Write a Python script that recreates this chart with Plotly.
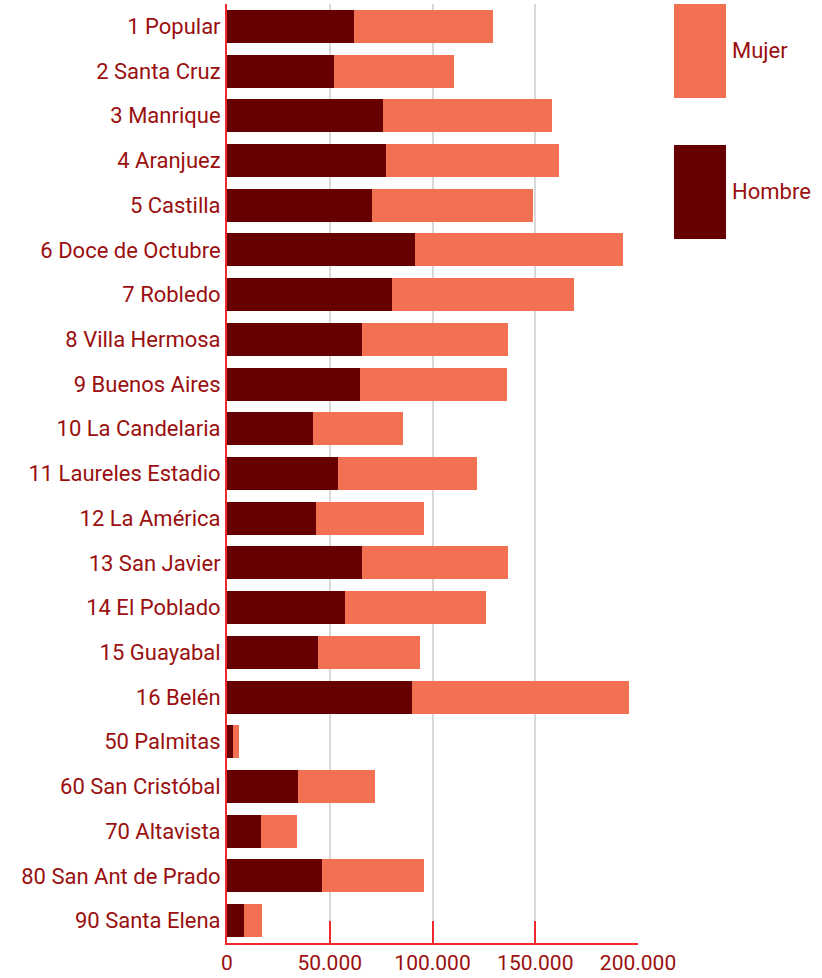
import plotly.graph_objects as go

comunas = ["1 Popular", "2 Santa Cruz", "3 Manrique", "4 Aranjuez", "5 Castilla",
           "6 Doce de Octubre", "7 Robledo", "8 Villa Hermosa", "9 Buenos Aires",
           "10 La Candelaria", "11 Laureles Estadio", "12 La América", "13 San Javier",
           "14 El Poblado", "15 Guayabal", "16 Belén", "50 Palmitas", "60 San Cristóbal",
           "70 Altavista", "80 San Ant de Prado", "90 Santa Elena"]
hombre = [61900, 52200, 76100, 77500, 70700, 91600, 80400, 65800, 64900, 42000, 54200,
          43500, 65800, 57600, 44400, 90200, 3100, 34700, 16700, 46400, 8400]
total = [129600, 110600, 158300, 161700, 149000, 192800, 169000, 136900, 136400, 85800,
         121800, 96000, 136900, 126200, 94000, 195800, 6000, 72200, 34200, 96000, 17200]
mujer = [t - h for t, h in zip(total, hombre)]
tick_vals = [0, 50000, 100000, 150000, 200000]
tick_text = ["0", "50.000", "100.000", "150.000", "200.000"]

C_H = "#660000"
C_M = "#F27153"
TXT = "#9A0F0F"
RED = "#EE2A2F"
FONT = "Roboto"
FS = 22

fig = go.Figure()
fig.add_trace(go.Bar(y=comunas, x=hombre, orientation="h", name="Hombre",
                     marker=dict(color=C_H, line=dict(width=0)), showlegend=False))
fig.add_trace(go.Bar(y=comunas, x=mujer, orientation="h", name="Mujer",
                     marker=dict(color=C_M, line=dict(width=0)), showlegend=False))

fig.update_layout(
    barmode="stack", bargap=0.26,
    width=822, height=978,
    margin=dict(l=227, r=184, t=4, b=35),
    paper_bgcolor="white", plot_bgcolor="white",
    font=dict(family=FONT, size=FS, color=TXT),
    xaxis=dict(range=[0, 200000], tickvals=tick_vals, ticktext=tick_text,
               showgrid=True, gridcolor="#D9D9D9", gridwidth=2,
               showline=True, linecolor=RED, linewidth=2,
               ticks="inside", ticklen=22, tickcolor=RED, tickwidth=2,
               zeroline=False, tickfont=dict(size=21, color=TXT)),
    yaxis=dict(categoryorder="array", categoryarray=comunas, autorange="reversed",
               showgrid=False, showline=True, linecolor=RED, linewidth=2,
               ticks="", ticklabelstandoff=0, zeroline=False,
               tickfont=dict(size=FS, color=TXT)),
)

# Legend drawn as large swatches
fig.add_shape(type="rect", xref="paper", yref="paper", x0=1.0876, x1=1.2141,
              y0=0.8999, y1=1.0, fillcolor=C_M, line=dict(width=0))
fig.add_shape(type="rect", xref="paper", yref="paper", x0=1.0876, x1=1.2141,
              y0=0.7497, y1=0.8498, fillcolor=C_H, line=dict(width=0))
fig.add_annotation(xref="paper", yref="paper", x=1.224, y=0.95, text="Mujer",
                   showarrow=False, xanchor="left", yanchor="middle",
                   font=dict(size=FS, color=TXT, family=FONT))
fig.add_annotation(xref="paper", yref="paper", x=1.224, y=0.7998, text="Hombre",
                   showarrow=False, xanchor="left", yanchor="middle",
                   font=dict(size=FS, color=TXT, family=FONT))

fig.write_html("out.html", config={"displayModeBar": False},
               post_script="document.body.style.margin='0';document.body.style.padding='0';")
